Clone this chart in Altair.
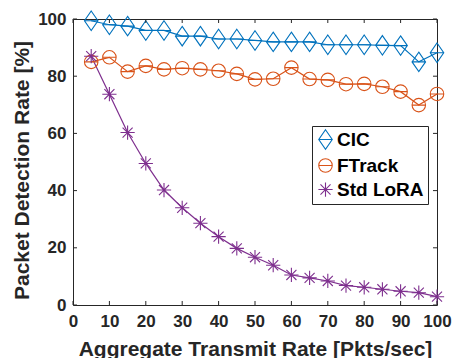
import altair as alt
import pandas as pd

rates = [5, 10, 15, 20, 25, 30, 35, 40, 45, 50, 55, 60, 65, 70, 75, 80, 85, 90, 95, 100]
cic = [99.4, 98.0, 97.5, 96.0, 96.0, 94.0, 94.0, 93.0, 93.0, 92.5, 92.0, 92.0, 92.0, 91.0, 91.0, 91.0, 90.8, 90.7, 85.0, 88.2]
ftrack = [85.0, 86.6, 81.6, 83.6, 82.4, 82.8, 82.4, 81.9, 80.8, 78.9, 79.1, 83.0, 79.0, 78.7, 77.2, 77.3, 76.3, 74.6, 69.9, 73.8]
stdlora = [87.0, 73.7, 60.3, 49.5, 40.2, 34.0, 28.6, 23.9, 19.8, 16.7, 13.9, 10.5, 9.5, 8.4, 6.8, 6.2, 5.5, 4.8, 4.3, 2.9]

methods = ["CIC", "FTrack", "Std LoRA"]
colors = ["#0072BD", "#D95319", "#7E2F8E"]
x_ticks = [0, 10, 20, 30, 40, 50, 60, 70, 80, 90, 100]
y_ticks = [0, 20, 40, 60, 80, 100]

shapes = [
    "M0,-1.3L0.9,0L0,1.3L-0.9,0ZM-0.95,0L0.95,0",
    "M-0.9,0A0.9,0.9,0,1,1,0.9,0A0.9,0.9,0,1,1,-0.9,0ZM-0.95,0L0.95,0",
    "M-0.95,0L0.95,0M0,-0.95L0,0.95M-0.67,-0.67L0.67,0.67M-0.67,0.67L0.67,-0.67",
]

rows = []
for name, vals in zip(methods, [cic, ftrack, stdlora]):
    for r, v in zip(rates, vals):
        rows.append({"rate": r, "pdr": v, "method": name})
df = pd.DataFrame(rows)

# inward tick marks (in data units)
xt_bottom = pd.DataFrame({"rate": x_ticks, "pdr": [0] * len(x_ticks), "pdr2": [1.4] * len(x_ticks)})
xt_top = pd.DataFrame({"rate": x_ticks, "pdr": [98.6] * len(x_ticks), "pdr2": [100] * len(x_ticks)})
yt_left = pd.DataFrame({"pdr": y_ticks, "rate": [0] * len(y_ticks), "rate2": [1.1] * len(y_ticks)})
yt_right = pd.DataFrame({"pdr": y_ticks, "rate": [98.9] * len(y_ticks), "rate2": [100] * len(y_ticks)})

xscale = alt.Scale(domain=[0, 100], nice=False, zero=False)
yscale = alt.Scale(domain=[0, 100], nice=False, zero=False)
cscale = alt.Scale(domain=methods, range=colors)
sscale = alt.Scale(domain=methods, range=shapes)

xaxis = alt.Axis(values=x_ticks, title="Aggregate Transmit Rate [Pkts/sec]",
                 titleY=50, titleBaseline="alphabetic", labelPadding=8,
                 labelOverlap=False, labelFlush=False, labelBound=False)
yaxis = alt.Axis(values=y_ticks, title="Packet Detection Rate [%]",
                 titleX=-45, titleY=151, titleBaseline="alphabetic", labelPadding=7,
                 labelOverlap=False, labelFlush=False, labelBound=False)
X = alt.X("rate:Q", scale=xscale, axis=xaxis)
Y = alt.Y("pdr:Q", scale=yscale, axis=yaxis)
leg = alt.Legend(title=None)
C = alt.Color("method:N", scale=cscale, legend=leg)

tick_color = "#262626"
bottom = alt.Chart(xt_bottom).mark_rule(color=tick_color, strokeWidth=1).encode(x=X, y=Y, y2="pdr2:Q")
top = alt.Chart(xt_top).mark_rule(color=tick_color, strokeWidth=1).encode(x=X, y=Y, y2="pdr2:Q")
left = alt.Chart(yt_left).mark_rule(color=tick_color, strokeWidth=1).encode(y=Y, x=X, x2="rate2:Q")
right = alt.Chart(yt_right).mark_rule(color=tick_color, strokeWidth=1).encode(y=Y, x=X, x2="rate2:Q")

lines = alt.Chart(df).mark_line(strokeWidth=1.2).encode(
    x=X, y=Y, color=C, detail="method:N",
)
points = alt.Chart(df).mark_point(filled=False, size=225, strokeWidth=1.1, opacity=1).encode(
    x=X, y=Y, color=C,
    shape=alt.Shape("method:N", scale=sscale, legend=leg),
)

chart = alt.layer(lines, points, bottom, top, left, right).properties(
    width=364, height=286,
    autosize=alt.AutoSizeParams(type="none"),
    padding={"left": 73, "top": 19, "right": 16, "bottom": 53},
    background="white",
).configure_view(
    stroke=tick_color, strokeWidth=1
).configure_axis(
    domain=False, ticks=False, grid=False,
    labelFont="Liberation Sans", labelFontSize=17, labelFontWeight="bold", labelColor=tick_color,
    titleFont="Liberation Sans", titleFontSize=21, titleFontWeight="bold", titleColor=tick_color,
).configure_legend(
    orient="none", legendX=239, legendY=107,
    strokeColor=tick_color, fillColor="white", padding=4,
    labelFont="Liberation Sans", labelFontSize=19, labelFontWeight="bold", labelColor="black",
    symbolSize=225, symbolStrokeWidth=1.1, rowPadding=4, labelOffset=2,
)

chart.save("out.html", embed_options={"renderer": "svg", "actions": False})
